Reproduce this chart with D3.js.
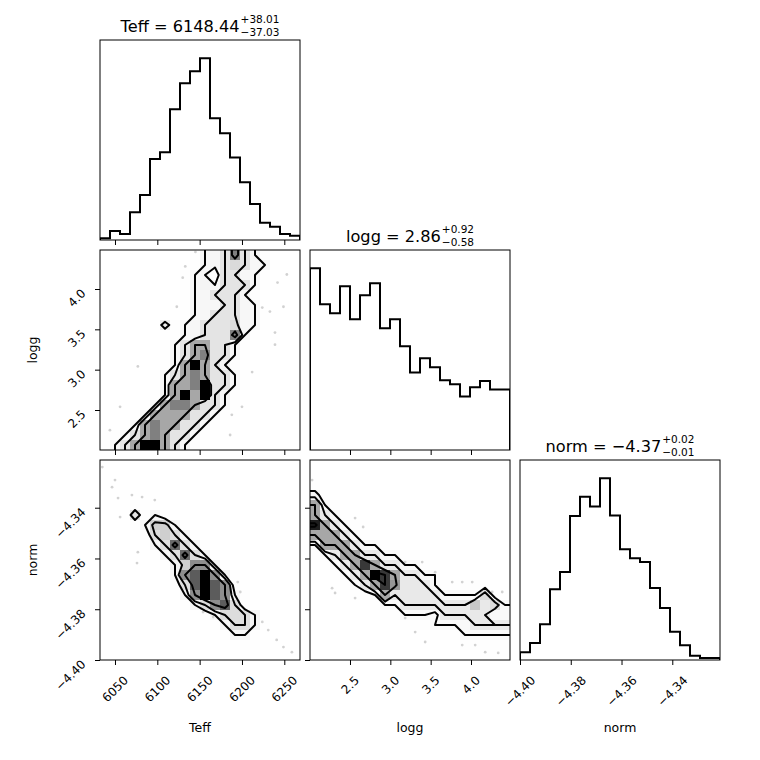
<!DOCTYPE html>
<html><head><meta charset="utf-8">
<script src="https://cdn.jsdelivr.net/npm/d3@7"></script>
<style>body{margin:0;background:#fff} text{font-family:"DejaVu Sans",sans-serif;fill:#000}</style>
</head><body><svg id="c" width="760" height="760"></svg>
<script>
// ---------- data ----------
const labels = ["Teff", "logg", "norm"];
const ranges = [[6032.28, 6268.55], [2.0042, 4.4835], [-4.4000, -4.3212]];
const tickValues = [[6050, 6100, 6150, 6200, 6250], [2.5, 3.0, 3.5, 4.0], [-4.40, -4.38, -4.36, -4.34]];
const tickLabels = [["6050", "6100", "6150", "6200", "6250"], ["2.5", "3.0", "3.5", "4.0"], ["\u22124.40", "\u22124.38", "\u22124.36", "\u22124.34"]];
const titleValues = ["6148.44", "2.86", "\u22124.37"];
const titlePlus = ["+38.01", "+0.92", "+0.02"];
const titleMinus = ["\u221237.03", "\u22120.58", "\u22120.01"];

const histTeff = [5, 27, 18, 83, 135, 243, 263, 392, 470, 506, 545, 365, 320, 247, 173, 108, 52, 40, 18, 13];
const histLogg = [545, 437, 410, 491, 392, 464, 500, 365, 392, 311, 232, 275, 248, 209, 197, 160, 188, 207, 181, 181];
const histNorm = [23, 51, 107, 212, 264, 432, 489, 460, 545, 433, 332, 305, 294, 216, 156, 85, 44, 13, 6, 6];

// 2D counts, rows from top (high y value) to bottom, columns left to right
const gridTeffLogg = [
 [0,0,0,0,0,0,0,0,1,2,6,6,11,24,11,6,2,1,0,0],
 [0,0,0,0,0,0,0,0,1,2,6,7,11,13,11,6,6,2,0,0],
 [0,0,0,0,0,0,0,0,2,6,6,3,11,11,6,6,2,1,0,0],
 [0,0,0,0,0,0,0,1,2,6,7,6,11,11,11,6,2,1,0,0],
 [0,0,0,0,0,0,0,1,2,6,6,11,11,11,6,2,1,0,0,0],
 [0,0,0,0,0,0,0,0,2,6,6,6,11,11,6,6,1,0,0,0],
 [0,0,0,0,0,0,0,1,2,6,6,11,11,11,6,6,2,0,0,0],
 [0,0,0,0,0,1,9,2,6,6,11,11,11,13,6,6,2,0,0,0],
 [0,0,0,0,0,0,1,2,6,6,11,11,11,24,6,2,0,0,0,0],
 [0,0,0,0,0,0,2,6,11,20,20,11,11,6,2,1,0,0,0,0],
 [0,0,0,0,0,1,2,6,11,20,24,11,11,6,2,0,0,0,0,0],
 [0,0,0,0,0,1,2,6,20,34,20,11,6,2,1,0,0,0,0,0],
 [0,0,0,0,1,2,6,11,20,24,20,11,11,6,2,0,0,0,0,0],
 [0,0,0,0,1,2,6,20,20,24,34,11,11,6,2,1,0,0,0,0],
 [0,0,0,0,1,2,6,20,34,20,34,11,6,2,1,0,0,0,0,0],
 [0,0,0,1,2,6,20,24,24,20,11,11,6,2,0,0,0,0,0,0],
 [0,0,0,2,6,20,20,20,20,11,11,6,2,0,0,0,0,0,0,0],
 [0,0,2,6,20,24,20,20,11,11,6,2,0,0,0,0,0,0,0,0],
 [0,2,6,11,20,24,20,11,11,6,2,0,0,0,0,0,0,0,0,0],
 [2,6,11,20,34,34,20,11,6,2,0,0,0,0,0,0,0,0,0,0]
];
const gridTeffNorm = [
 [0,0,0,0,0,0,0,0,0,0,0,0,0,0,0,0,0,0,0,0],
 [1,1,0,0,0,0,0,0,0,0,0,0,0,0,0,0,0,0,0,0],
 [0,1,1,0,0,0,0,0,0,0,0,0,0,0,0,0,0,0,0,0],
 [0,1,2,1,0,0,0,0,0,0,0,0,0,0,0,0,0,0,0,0],
 [0,0,1,2,2,1,0,0,0,0,0,0,0,0,0,0,0,0,0,0],
 [0,0,1,10,2,6,2,1,0,0,0,0,0,0,0,0,0,0,0,0],
 [0,0,0,2,6,13,13,6,2,0,0,0,0,0,0,0,0,0,0,0],
 [0,0,0,1,2,11,13,11,6,2,0,0,0,0,0,0,0,0,0,0],
 [0,0,0,0,1,6,11,23,11,6,2,0,0,0,0,0,0,0,0,0],
 [0,0,0,0,0,2,6,11,23,11,6,2,0,0,0,0,0,0,0,0],
 [0,0,0,0,0,1,2,6,13,20,20,6,2,0,0,0,0,0,0,0],
 [0,0,0,0,0,0,1,6,20,24,30,20,6,2,0,0,0,0,0,0],
 [0,0,0,0,0,0,1,2,11,24,30,24,20,2,0,0,0,0,0,0],
 [0,0,0,0,0,0,0,1,6,20,30,24,20,6,2,0,0,0,0,0],
 [0,0,0,0,0,0,0,0,2,6,11,20,24,11,2,1,0,0,0,0],
 [0,0,0,0,0,0,0,0,0,1,2,6,11,11,11,6,2,0,0,0],
 [0,0,0,0,0,0,0,0,0,0,1,2,6,11,11,6,2,1,0,0],
 [0,0,0,0,0,0,0,0,0,0,0,1,2,6,6,2,1,0,0,0],
 [0,0,0,0,0,0,0,0,0,0,0,0,1,1,2,2,2,1,0,0],
 [0,0,0,0,0,0,0,0,0,0,0,0,0,0,1,1,1,1,1,0]
];
const gridLoggNorm = [
 [0,0,0,0,0,0,0,0,0,0,0,0,0,0,0,0,0,0,0,0],
 [1,0,0,0,0,0,0,0,0,0,0,0,0,0,0,0,0,0,0,0],
 [2,1,0,0,0,0,0,0,0,0,0,0,0,0,0,0,0,0,0,0],
 [7,2,1,0,0,0,0,0,0,0,0,0,0,0,0,0,0,0,0,0],
 [20,5,2,1,0,0,0,0,0,0,0,0,0,0,0,0,0,0,0,0],
 [20,10,5,2,1,0,0,0,0,0,0,0,0,0,0,0,0,0,0,0],
 [32,20,10,5,2,1,0,0,0,0,0,0,0,0,0,0,0,0,0,0],
 [20,20,20,10,5,2,2,1,0,0,0,0,0,0,0,0,0,0,0,0],
 [5,20,20,20,10,5,5,2,2,1,0,0,0,0,0,0,0,0,0,0],
 [2,5,10,20,20,10,10,5,5,2,2,0,0,0,0,0,0,0,0,0],
 [1,2,5,10,20,30,20,10,10,5,5,2,2,0,0,0,0,0,0,0],
 [0,1,2,5,10,20,34,30,20,10,10,5,5,1,0,0,0,0,0,0],
 [0,0,1,2,5,10,20,30,22,10,10,10,5,2,1,2,2,2,0,0],
 [0,0,0,1,2,2,5,20,10,10,10,10,10,5,5,5,5,13,2,1],
 [0,0,0,0,1,1,2,5,5,10,10,10,10,10,10,10,16,10,13,5],
 [0,0,0,0,0,0,1,2,2,5,5,5,3,10,10,10,10,10,5,5],
 [0,0,0,0,0,0,0,0,1,2,2,2,5,5,5,5,10,10,10,10],
 [0,0,0,0,0,0,0,0,0,0,1,0,2,2,2,5,5,5,5,5],
 [0,0,0,0,0,0,0,0,0,0,0,0,0,0,1,2,2,2,2,2],
 [0,0,0,0,0,0,0,0,0,0,0,0,0,0,0,0,0,0,0,0]
];

// scattered samples outside the contours
const dotsTeffLogg = [[6133,4.28],[6130,4.14],[6123,3.78],[6077,3.04],[6056,2.54],[6253,4.18],[6242,4.08],[6224,3.77],[6239,3.46],[6239,3.31],[6212,2.97],[6200,2.54],[6188,2.44],[6233,3.72],[6145,4.46],[6249,3.78],[6186,2.19],[6044,2.25]];
const dotsTeffNorm = [[6050,-4.3291],[6046.5,-4.3319],[6053.6,-4.3362],[6056,-4.3437],[6070,-4.3350],[6082,-4.3358],[6097,-4.3370],[6076,-4.3618],[6077,-4.3575],[6154,-4.3811],[6166,-4.3831],[6195,-4.3693],[6198,-4.3732],[6231,-4.3882],[6241,-4.3921],[6249,-4.3949],[6259,-4.3969],[6224,-4.3850],[6035,-4.3240]];
const dotsLoggNorm = [[2.030,-4.3291],[2.563,-4.3441],[2.663,-4.3476],[2.315,-4.3736],[2.278,-4.3717],[2.563,-4.3756],[3.184,-4.3835],[3.308,-4.3890],[3.432,-4.3929],[3.184,-4.3614],[3.395,-4.3614],[3.556,-4.3654],[3.767,-4.3693],[3.891,-4.3693],[4.015,-4.3693],[4.263,-4.3732],[4.387,-4.3732],[3.891,-4.3941],[4.052,-4.3941],[4.176,-4.3969],[4.337,-4.3972]];

const contourLevels = [0.118, 0.393, 0.675, 0.865];

// ---------- layout ----------
const PANEL = 200, GAP = 10, LEFT = 100, TOP = 40, NB = 20;
const pl = j => LEFT + j * (PANEL + GAP);
const pt = i => TOP + i * (PANEL + GAP);
const xs = ranges.map((r, k) => d3.scaleLinear().domain(r).range([pl(k), pl(k) + PANEL]));
const ys = ranges.map((r, k) => d3.scaleLinear().domain(r).range([pt(k) + PANEL, pt(k)]));

const svg = d3.select("#c");
svg.append("rect").attr("width", 760).attr("height", 760).attr("fill", "#fff");
const defs = svg.append("defs");
function clip(i, j) {
  const id = "clip" + i + "_" + j;
  defs.append("clipPath").attr("id", id).append("rect")
    .attr("x", pl(j)).attr("y", pt(i)).attr("width", PANEL).attr("height", PANEL);
  return "url(#" + id + ")";
}

// ---------- 1D histograms ----------
function hist1d(k, counts) {
  const g = svg.append("g").attr("clip-path", clip(k, k));
  const x = xs[k];
  const y = d3.scaleLinear().domain([0, 1.1 * d3.max(counts)]).range([pt(k) + PANEL, pt(k)]);
  const [a, b] = ranges[k], bw = (b - a) / NB;
  const pts = [[a, 0]];
  counts.forEach((c, n) => { pts.push([a + n * bw, c]); pts.push([a + (n + 1) * bw, c]); });
  pts.push([b, 0]);
  g.append("path").attr("d", d3.line().x(d => x(d[0])).y(d => y(d[1]))(pts))
    .attr("fill", "none").attr("stroke", "#000").attr("stroke-width", 2).attr("stroke-linejoin", "miter");
}

// ---------- 2D histograms ----------
function hist2d(i, j, gridRows, dots) {
  const g = svg.append("g").attr("clip-path", clip(i, j));
  const x = xs[j], y = ys[i];
  const [x0, x1] = ranges[j], [y0, y1] = ranges[i];
  const bx = (x1 - x0) / NB, by = (y1 - y0) / NB;
  const H = d3.range(NB).map(xi => d3.range(NB).map(yj => gridRows[NB - 1 - yj][xi]));
  const flat = H.flat();
  const hmax = d3.max(flat), hmin = d3.min(flat);
  const sorted = flat.slice().sort((p, q) => q - p);
  const tot = d3.sum(sorted);
  let cum = 0;
  const sm = sorted.map(v => (cum += v) / tot);
  const V = contourLevels.map(v0 => {
    let idx = -1;
    sm.forEach((s, n) => { if (s <= v0) idx = n; });
    return idx >= 0 ? sorted[idx] : sorted[0];
  }).sort((p, q) => p - q);
  const M = NB + 4;
  const P = d3.range(M).map(() => new Array(M).fill(hmin));
  for (let a = 0; a < NB; a++) for (let b = 0; b < NB; b++) P[a + 2][b + 2] = H[a][b];
  for (let b = 0; b < NB; b++) { P[1][b + 2] = H[0][b]; P[M - 2][b + 2] = H[NB - 1][b]; }
  for (let a = 0; a < NB; a++) { P[a + 2][1] = H[a][0]; P[a + 2][M - 2] = H[a][NB - 1]; }
  P[1][1] = H[0][0]; P[1][M - 2] = H[0][NB - 1]; P[M - 2][1] = H[NB - 1][0]; P[M - 2][M - 2] = H[NB - 1][NB - 1];
  const values = new Array(M * M);
  for (let yy = 0; yy < M; yy++) for (let xx = 0; xx < M; xx++) values[yy * M + xx] = P[xx][yy];
  const proj = d3.geoTransform({
    point: function (px, py) { this.stream.point(x(x0 + (px - 2) * bx), y(y0 + (py - 2) * by)); }
  });
  const path = d3.geoPath(proj);
  const contours = d3.contours().size([M, M]);

  g.selectAll("circle.pt").data(dots).join("circle")
    .attr("cx", d => x(d[0])).attr("cy", d => y(d[1])).attr("r", 1.4)
    .attr("fill", "#000").attr("fill-opacity", 0.18);
  g.append("path").attr("d", path(contours.thresholds([V[0]])(values)[0]))
    .attr("fill", "#fff").attr("stroke", "none");
  const cells = [];
  for (let a = 0; a < NB; a++) for (let b = 0; b < NB; b++) if (H[a][b] > 0) cells.push([a, b, H[a][b]]);
  g.selectAll("rect.cell").data(cells).join("rect")
    .attr("x", d => x(x0 + d[0] * bx)).attr("y", d => y(y0 + (d[1] + 1) * by))
    .attr("width", d => x(x0 + (d[0] + 1) * bx) - x(x0 + d[0] * bx))
    .attr("height", d => y(y0 + d[1] * by) - y(y0 + (d[1] + 1) * by))
    .attr("fill", d => { const t = (hmax - d[2]) / hmax; const c = Math.round(255 * t); return `rgb(${c},${c},${c})`; })
    .attr("fill-opacity", d => d[2] / hmax)
    .attr("shape-rendering", "crispEdges");
  V.forEach(v => {
    g.append("path").attr("d", path(contours.thresholds([v])(values)[0]))
      .attr("fill", "none").attr("stroke", "#000").attr("stroke-width", 2).attr("stroke-linejoin", "round");
  });
}

hist1d(0, histTeff);
hist1d(1, histLogg);
hist1d(2, histNorm);
hist2d(1, 0, gridTeffLogg, dotsTeffLogg);
hist2d(2, 0, gridTeffNorm, dotsTeffNorm);
hist2d(2, 1, gridLoggNorm, dotsLoggNorm);

// ---------- axes ----------
const TICK_FS = 12, CAP = 0.73 * TICK_FS;
for (let i = 0; i < 3; i++) {
  for (let j = 0; j <= i; j++) {
    svg.append("rect").attr("x", pl(j)).attr("y", pt(i)).attr("width", PANEL).attr("height", PANEL)
      .attr("fill", "none").attr("stroke", "#000").attr("stroke-width", 1);
    const ab = svg.append("g").attr("transform", `translate(0,${pt(i) + PANEL})`)
      .call(d3.axisBottom(xs[j]).tickValues(tickValues[j]).tickSize(5).tickFormat(""));
    ab.select(".domain").remove();
    ab.selectAll("text").remove();
    if (j < i) {
      const al = svg.append("g").attr("transform", `translate(${pl(j)},0)`)
        .call(d3.axisLeft(ys[i]).tickValues(tickValues[i]).tickSize(5).tickFormat(""));
      al.select(".domain").remove();
      al.selectAll("text").remove();
    }
    if (i === 2) {
      tickValues[j].forEach((v, n) => {
        const t = svg.append("text").attr("font-size", TICK_FS).attr("text-anchor", "end").text(tickLabels[j][n]);
        const w = t.node().getComputedTextLength();
        const ax = xs[j](v) + 0.354 * (w + CAP), ay = pt(i) + PANEL + 15 + 0.707 * CAP;
        t.attr("x", ax).attr("y", ay).attr("transform", `rotate(-45,${ax},${ay})`);
      });
      svg.append("text").attr("x", pl(j) + PANEL / 2).attr("y", 731.5).attr("text-anchor", "middle")
        .attr("font-size", 12.5).text(labels[j]);
    }
    if (j === 0 && i > 0) {
      tickValues[i].forEach((v, n) => {
        const ax = pl(0) - 13.5, ay = ys[i](v) + 5.2;
        svg.append("text").attr("font-size", TICK_FS).attr("text-anchor", "end").text(tickLabels[i][n])
          .attr("x", ax).attr("y", ay).attr("transform", `rotate(-45,${ax},${ay})`);
      });
      const cy = pt(i) + PANEL / 2;
      svg.append("text").attr("x", 37).attr("y", cy).attr("text-anchor", "middle").attr("font-size", 12.5)
        .attr("transform", `rotate(-90,37,${cy})`).text(labels[i]);
    }
  }
}

// ---------- titles ----------
function measure(str, fs) {
  const t = svg.append("text").attr("font-size", fs).text(str);
  const w = t.node().getComputedTextLength();
  t.remove();
  return w;
}
const SCRIPT_FS = 10.5;
for (let k = 0; k < 3; k++) {
  const base = pt(k) - 8.5, cx = pl(k) + PANEL / 2;
  const main = `${labels[k]} = ${titleValues[k]}`;
  const w = measure(main, 16.2);
  const ws = Math.max(measure(titlePlus[k], SCRIPT_FS), measure(titleMinus[k], SCRIPT_FS));
  const x0 = cx - (w + 1 + ws) / 2;
  svg.append("text").attr("x", x0).attr("y", base).attr("font-size", 16.2).text(main);
  svg.append("text").attr("font-size", SCRIPT_FS).attr("x", x0 + w + 1).attr("y", base - 8.3).text(titlePlus[k]);
  svg.append("text").attr("font-size", SCRIPT_FS).attr("x", x0 + w + 1).attr("y", base + 4.2).text(titleMinus[k]);
}
</script></body></html>
